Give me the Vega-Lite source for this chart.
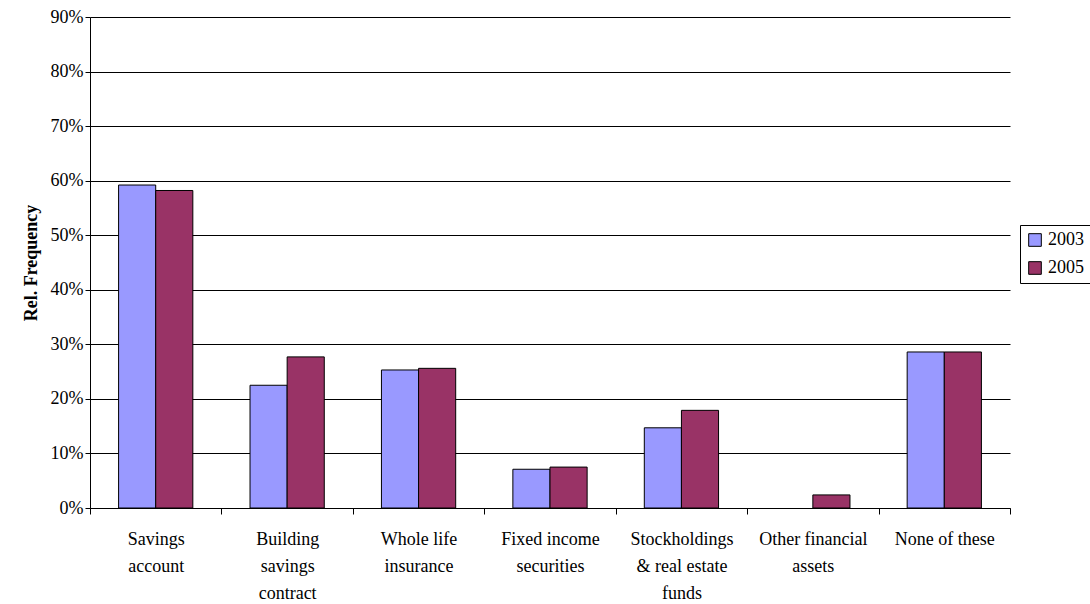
{
  "$schema": "https://vega.github.io/schema/vega-lite/v6.json",
  "width": 920,
  "height": 491,
  "autosize": {"type": "none"},
  "padding": {"left": 90, "top": 17, "right": 80, "bottom": 96},
  "background": "white",
  "config": {
    "font": "Liberation Serif",
    "view": {"stroke": null},
    "axis": {"labelFont": "Liberation Serif", "titleFont": "Liberation Serif", "labelColor": "black", "titleColor": "black", "domainColor": "black", "tickColor": "black", "labelOverlap": false},
    "legend": {"labelFont": "Liberation Serif"}
  },
  "data": {
    "values": [
      {"cat": "Savings|account", "year": "2003", "v": 0.592},
      {"cat": "Savings|account", "year": "2005", "v": 0.582},
      {"cat": "Building|savings|contract", "year": "2003", "v": 0.225},
      {"cat": "Building|savings|contract", "year": "2005", "v": 0.277},
      {"cat": "Whole life|insurance", "year": "2003", "v": 0.253},
      {"cat": "Whole life|insurance", "year": "2005", "v": 0.256},
      {"cat": "Fixed income|securities", "year": "2003", "v": 0.071},
      {"cat": "Fixed income|securities", "year": "2005", "v": 0.075},
      {"cat": "Stockholdings|& real estate|funds", "year": "2003", "v": 0.147},
      {"cat": "Stockholdings|& real estate|funds", "year": "2005", "v": 0.179},
      {"cat": "Other financial|assets", "year": "2005", "v": 0.024},
      {"cat": "None of these", "year": "2003", "v": 0.286},
      {"cat": "None of these", "year": "2005", "v": 0.286}
    ]
  },
  "mark": {"type": "bar", "stroke": "black", "strokeWidth": 1},
  "encoding": {
    "x": {
      "field": "cat", "type": "nominal", "sort": null,
      "scale": {"paddingInner": 0, "paddingOuter": 0},
      "axis": {"title": null, "labelAngle": 0, "labelFontSize": 18, "labelPadding": 16, "tickBand": "extent", "tickSize": 6,
        "labelExpr": "split(datum.label, '|')", "labelLineHeight": 27, "labelLimit": 200}
    },
    "xOffset": {"field": "year", "type": "nominal", "scale": {"domain": ["2003", "2005"], "paddingInner": 0, "paddingOuter": 0.77}},
    "y": {
      "field": "v", "type": "quantitative",
      "scale": {"domain": [0, 0.9], "nice": false},
      "axis": {"format": ".0%", "values": [0, 0.1, 0.2, 0.3, 0.4, 0.5, 0.6, 0.7, 0.8, 0.9],
        "grid": true, "gridColor": "black", "gridOpacity": 1, "labelFontSize": 18, "tickSize": 5,
        "title": "Rel. Frequency", "titleFontSize": 18, "titleFontWeight": "bold", "titlePadding": 10}
    },
    "color": {
      "field": "year", "type": "nominal",
      "scale": {"domain": ["2003", "2005"], "range": ["#9999FF", "#993366"]},
      "legend": {"title": null, "orient": "none", "legendX": 930, "legendY": 208,
        "strokeColor": "black", "padding": 6, "symbolType": "square", "symbolSize": 160, "labelOffset": 4,
        "symbolStrokeColor": "black", "symbolStrokeWidth": 1, "labelFontSize": 18, "rowPadding": 10}
    }
  }
}
